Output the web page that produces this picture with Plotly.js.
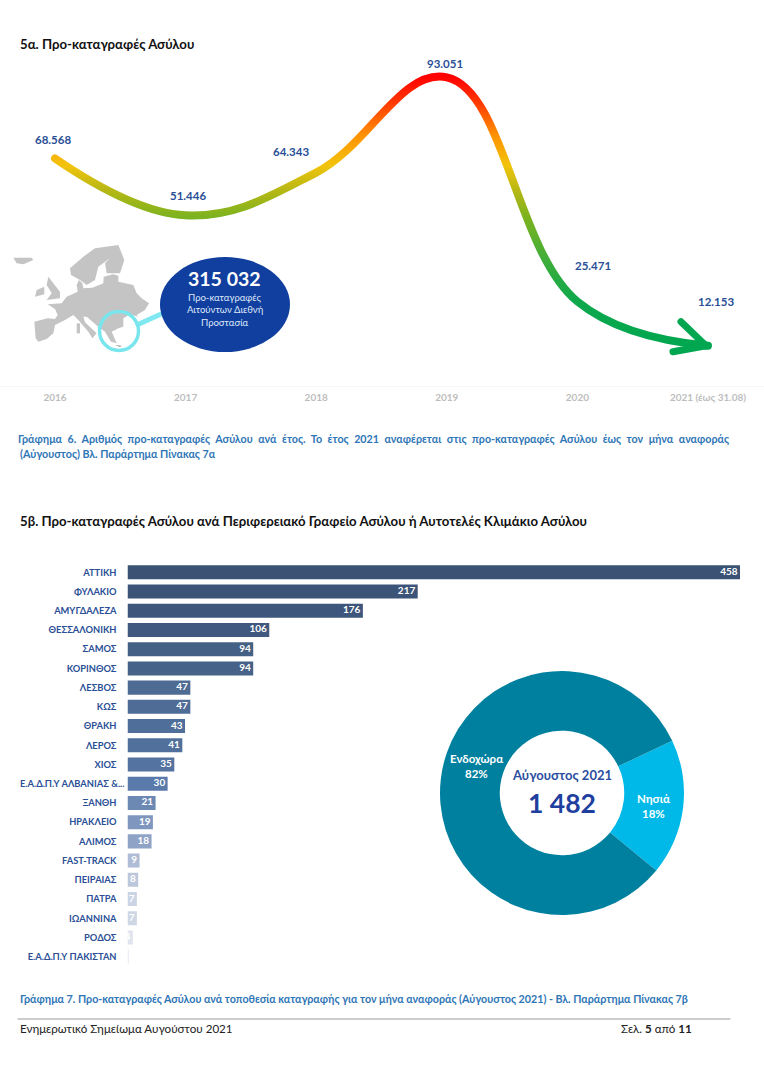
<!DOCTYPE html>
<html><head><meta charset="utf-8">
<script src="https://cdn.plot.ly/plotly-3.0.1.min.js"></script>
<style>html,body{margin:0;padding:0;background:#fff}#c{width:764px;height:1080px}</style></head>
<body><div id="c"></div>
<script>
// ---------- data ----------
var years = ['2016','2017','2018','2019','2020','2021 (έως 31.08)'];
var yearValues = [68568,51446,64343,93051,25471,12153];
var yearLabels = ['68.568','51.446','64.343','93.051','25.471','12.153'];
var offices = ['ΑΤΤΙΚΗ','ΦΥΛΑΚΙΟ','ΑΜΥΓΔΑΛΕΖΑ','ΘΕΣΣΑΛΟΝΙΚΗ','ΣΑΜΟΣ','ΚΟΡΙΝΘΟΣ','ΛΕΣΒΟΣ','ΚΩΣ','ΘΡΑΚΗ','ΛΕΡΟΣ','ΧΙΟΣ','Ε.Α.Δ.Π.Υ ΑΛΒΑΝΙΑΣ &...','ΞΑΝΘΗ','ΗΡΑΚΛΕΙΟ','ΑΛΙΜΟΣ','FAST-TRACK','ΠΕΙΡΑΙΑΣ','ΠΑΤΡΑ','ΙΩΑΝΝΙΝΑ','ΡΟΔΟΣ','Ε.Α.Δ.Π.Υ ΠΑΚΙΣΤΑΝ'];
var officeValues = [458,217,176,106,94,94,47,47,43,41,35,30,21,19,18,9,8,7,7,4,1];
var regions = ['Νησιά','Ενδοχώρα'];
var regionShares = [18,82];
// ---------- styles ----------
var barColors = ['#3b5275','#3c5478','#3e567b','#41597f','#456085','#476288','#4e6b94','#4f6c96','#506e9a','#52709c','#5473a1','#5a7aab','#6c89b4','#7f97bf','#8fa3c6','#afbcd5','#bcc7dc','#cbd4e4','#cfd7e6','#dfe4ee','#e6eaf1'];
var FONT = 'Lato, "Open Sans", "Noto Sans", sans-serif';
var W = 764, H = 1080;
function fx(p){return p/W;}
function fy(p){return 1-p/H;}
function txt(s,x,y,size,color,bold,anchor){
  return {text:bold?'<b>'+s+'</b>':s,xref:'paper',yref:'paper',x:fx(x),y:fy(y),xanchor:anchor||'left',yanchor:'middle',
    showarrow:false,font:{family:FONT,size:size,color:color}};
}
var BLUE='#2a4f96', CAP='#2e75b6';
var anns = [
  txt('5α. Προ-καταγραφές Ασύλου',18,44,13.2,'#111',true),
  txt('5β. Προ-καταγραφές Ασύλου ανά Περιφερειακό Γραφείο Ασύλου ή Αυτοτελές Κλιμάκιο Ασύλου',18,521,13.2,'#111',true),
  txt('Γράφημα 6. Αριθμός προ-καταγραφές Ασύλου ανά έτος. Το έτος 2021 αναφέρεται στις προ-καταγραφές Ασύλου έως τον μήνα αναφοράς',18,439,10.7,CAP,true),
  txt('(Αύγουστος) Βλ. Παράρτημα Πίνακας 7α',18,453,10.7,CAP,true),
  txt('Γράφημα 7. Προ-καταγραφές Ασύλου ανά τοποθεσία καταγραφής για τον μήνα αναφοράς (Αύγουστος 2021) - Βλ. Παράρτημα Πίνακας 7β',18,998,10.7,CAP,true),
  txt('Ενημερωτικό Σημείωμα Αυγούστου 2021',18,1028,11.6,'#222',false),
  txt('Σελ. <b>5</b> από <b>11</b>',619,1028,11.6,'#222',false),
  txt('315 032',224.5,278,19.5,'#fff',true,'center'),
  txt('Προ-καταγραφές',224.5,297,9.5,'#dfe8fa',false,'center'),
  txt('Αιτούντων Διεθνή',224.5,310,9.5,'#dfe8fa',false,'center'),
  txt('Προστασία',224.5,322,9.5,'#dfe8fa',false,'center'),
  txt('Αύγουστος 2021',562,775,13,'#2b4ea0',true,'center'),
  txt('1 482',562,803,26.5,'#1f3f9f',true,'center'),
  txt(regions[1],476.5,758,11.5,'#fff',true,'center'),
  txt(regionShares[1]+'%',476.5,773,11.5,'#fff',true,'center'),
  txt(regions[0],653,798,11.5,'#fff',true,'center'),
  txt(regionShares[0]+'%',653,813,11.5,'#fff',true,'center')
];
var labelShift = [[-2,19],[2,20],[-25,21],[-2,14],[16,36],[8,44]];
yearLabels.forEach(function(l,i){
  anns.push({text:'<b>'+l+'</b>',xref:'x',yref:'y',x:i,y:yearValues[i],xshift:labelShift[i][0],yshift:labelShift[i][1],
    showarrow:false,font:{family:FONT,size:11.5,color:BLUE}});
});
// decorative map, outlined in zoomed-picture units
function poly(pts,fill){
  var d=pts.map(function(p,i){return (i?'L':'M')+fx(5+p[0]/3).toFixed(5)+' '+fy(235+p[1]/3).toFixed(5);}).join(' ')+' Z';
  return {type:'path',xref:'paper',yref:'paper',path:d,fillcolor:fill,line:{width:0},layer:'above'};
}
var G='#c4c4c4';
var deco=[
 poly([[92,310],[88,260],[128,250],[150,252],[158,240],[150,222],[128,208],[170,205],[185,185],[218,170],[215,150],[222,135],[232,145],[235,160],[262,158],[295,145],[296,125],[325,118],[340,122],[340,140],[385,150],[395,175],[410,190],[432,205],[420,225],[395,240],[400,245],[375,238],[355,250],[355,275],[340,280],[320,290],[335,325],[318,320],[300,290],[280,275],[245,245],[235,245],[240,262],[275,295],[262,310],[250,290],[220,255],[205,240],[180,255],[150,270],[145,295],[125,312],[100,320]],G),
 poly([[195,100],[235,65],[270,40],[340,30],[358,75],[345,115],[305,115],[300,85],[315,70],[280,95],[270,135],[245,150],[225,135],[198,120]],G),
 poly([[130,125],[145,145],[165,170],[165,190],[125,195],[140,175],[125,150]],G),
 poly([[95,165],[118,155],[118,178],[90,185]],G),
 poly([[25,68],[80,68],[85,75],[55,88],[35,85]],G),
 poly([[215,265],[225,265],[225,295],[215,295]],G),
 poly([[330,330],[350,332],[345,336]],'#9a9a9a'),
 {type:'line',xref:'paper',yref:'paper',x0:fx(138),y0:fy(324.5),x1:fx(160),y1:fy(314.5),line:{color:'#7fe8f0',width:5},layer:'above'},
 {type:'circle',xref:'paper',yref:'paper',x0:fx(99.5),x1:fx(138.5),y0:fy(311.5),y1:fy(350.5),fillcolor:'rgba(0,0,0,0)',line:{color:'#79e6ee',width:3.5},layer:'above'},
 {type:'circle',xref:'paper',yref:'paper',x0:fx(160),x1:fx(290),y0:fy(257),y1:fy(352),fillcolor:'#103f9f',line:{width:0},layer:'above'},
 {type:'line',xref:'paper',yref:'paper',x0:fx(18),x1:fx(730),y0:fy(1019),y1:fy(1019),line:{color:'#9a9a9a',width:1}},
 // arrow head on the last point of the line
 {type:'line',xref:'x',yref:'y',xsizemode:'pixel',ysizemode:'pixel',xanchor:5,yanchor:yearValues[5],x0:-2,y0:0,x1:-27,y1:24,line:{color:'#00a650',width:7},name:'wing'},
 {type:'line',xref:'x',yref:'y',xsizemode:'pixel',ysizemode:'pixel',xanchor:5,yanchor:yearValues[5],x0:-2,y0:0,x1:-35,y1:-6,line:{color:'#00a650',width:7},name:'wing'}
];
var traces=[
 {type:'scatter',mode:'lines',x:years,y:yearValues,xaxis:'x',yaxis:'y',line:{shape:'spline',smoothing:1.15,width:8,color:'#00a650'},hoverinfo:'skip',cliponaxis:false},
 {type:'bar',orientation:'h',y:offices,x:officeValues,xaxis:'x2',yaxis:'y2',width:0.73,marker:{color:barColors},hoverinfo:'skip'},
 {type:'scatter',mode:'text',y:offices,x:officeValues,xaxis:'x2',yaxis:'y2',text:officeValues.map(function(v){return v+'\u00a0';}),textposition:'middle left',
  textfont:{family:FONT,size:10,color:'#fff',weight:700},hoverinfo:'skip',cliponaxis:false},
 {type:'pie',labels:regions,values:regionShares,sort:false,direction:'clockwise',rotation:64.6,hole:0.51,textinfo:'none',
  marker:{colors:['#00b9e8','#00809f'],line:{width:0}},domain:{x:[fx(440),fx(684)],y:[fy(915),fy(671)]},hoverinfo:'skip'}
];
var layout={width:W,height:H,margin:{l:0,r:0,t:0,b:0},paper_bgcolor:'#fff',plot_bgcolor:'rgba(0,0,0,0)',showlegend:false,font:{family:FONT},
 xaxis:{domain:[0,1],type:'category',range:[-0.421,5.429],showgrid:false,zeroline:false,showline:true,linecolor:'#f7f7f7',linewidth:1,ticks:'',ticklabelstandoff:2,
   tickfont:{family:FONT,size:10,color:'#bdbdbd',weight:700},anchor:'y',fixedrange:true},
 yaxis:{domain:[fy(386),fy(20)],range:[0,110340],visible:false,anchor:'x',fixedrange:true},
 xaxis2:{domain:[fx(127.5),fx(740)],range:[0,458],visible:false,anchor:'y2',fixedrange:true},
 yaxis2:{domain:[fy(966.3),fy(562.7)],type:'category',range:[20.5,-0.5],categoryorder:'array',categoryarray:offices,showgrid:false,zeroline:false,showline:false,ticks:'',
   ticklabelstandoff:10,tickfont:{family:FONT,size:9.3,color:BLUE,weight:700},anchor:'x2',fixedrange:true,tickmode:'linear',dtick:1},
 shapes:deco,annotations:anns};
Plotly.newPlot('c',traces,layout,{displayModeBar:false,staticPlot:true}).then(function(gd){
  var svg=gd.querySelector('.main-svg');
  var defs=svg.querySelector('defs');
  var NS='http://www.w3.org/2000/svg';
  var grad=document.createElementNS(NS,'linearGradient');
  grad.setAttribute('id','heat');grad.setAttribute('x1','0');grad.setAttribute('y1','0');grad.setAttribute('x2','0');grad.setAttribute('y2','1');
  [[0,'#ff0000'],[.10,'#ff3a00'],[.215,'#ff9000'],[.33,'#f2c40c'],[.42,'#b8b814'],[.517,'#7fb31f'],[.68,'#3fae3a'],[.83,'#0fa84c'],[1,'#00a650']].forEach(function(s){
    var st=document.createElementNS(NS,'stop');st.setAttribute('offset',s[0]);st.setAttribute('stop-color',s[1]);grad.appendChild(st);});
  defs.appendChild(grad);
  var line=gd.querySelector('.scatterlayer .js-line');
  if(line){line.style.stroke='url(#heat)';line.style.strokeLinecap='round';}
  gd.querySelectorAll('.shapelayer path').forEach(function(p){ if(p.style.stroke&&p.getAttribute('d').split(/[ML]/).length===3) p.style.strokeLinecap='round'; });
  gd.querySelectorAll('.annotation-text').forEach(function(t){
    if(t.textContent.indexOf('Γράφημα 6')===0){
      var words=t.textContent.trim().split(/\s+/).length-1;
      var extra=(711-t.getComputedTextLength())/words;
      t.style.wordSpacing=extra+'px';
      var r=t.getBoundingClientRect(); t.setAttribute('transform','translate('+(18-r.left)+',0) '+(t.getAttribute('transform')||''));
    }
  });
  gd.querySelectorAll('.ytick text, .ytick2 text, .y2tick text').forEach(function(t){
    if(t.textContent.indexOf('ΑΛΒΑΝΙΑΣ')>=0){t.setAttribute('transform','translate(8,0) '+(t.getAttribute('transform')||''));}
  });
});
</script></body></html>
